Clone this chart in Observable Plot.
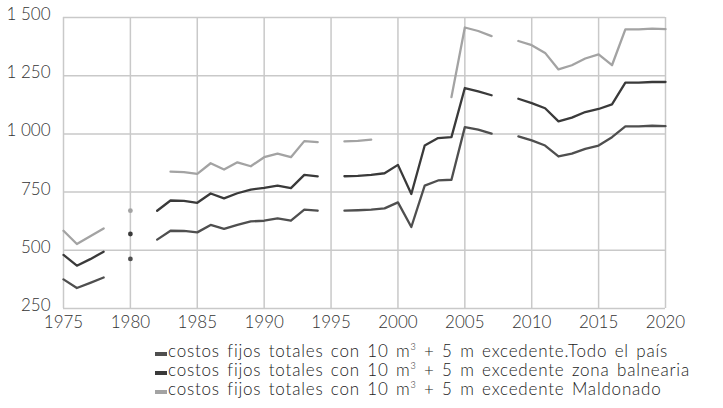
<!DOCTYPE html>
<html><head><meta charset="utf-8">
<script src="https://cdn.jsdelivr.net/npm/d3@7"></script>
<script src="https://cdn.jsdelivr.net/npm/@observablehq/plot@0.6"></script>
<style>
body{margin:0;background:#fff;font-family:Lato,"Open Sans",sans-serif}
#legend{margin-left:155px;margin-top:5px;font-size:17px;letter-spacing:0.8px;word-spacing:2px;line-height:19px;color:#222;white-space:nowrap;font-weight:300}
.sw{display:inline-block;width:12px;height:4px;margin-right:1px;vertical-align:1px}
sup{font-size:9px;vertical-align:7px;line-height:0}
</style></head>
<body><div id="chart"></div><div id="legend"></div>
<script>
const years = [1975,1976,1977,1978,1979,1980,1981,1982,1983,1984,1985,1986,1987,1988,1989,1990,1991,1992,1993,1994,1995,1996,1997,1998,1999,2000,2001,2002,2003,2004,2005,2006,2007,2008,2009,2010,2011,2012,2013,2014,2015,2016,2017,2018,2019,2020];
const todoElPais = [375,338,360,383,null,463,null,546,584,583,577,609,592,609,624,627,637,627,675,670,null,670,672,675,680,706,600,778,800,803,1029,1018,1001,null,989,972,950,903,915,936,950,986,1032,1032,1035,1033];
const zonaBalnearia = [480,434,462,494,null,570,null,670,714,712,704,744,723,745,761,768,778,767,824,818,null,818,820,824,831,867,742,950,982,986,1197,1183,1166,null,1151,1132,1110,1054,1070,1094,1107,1127,1220,1220,1223,1223];
const maldonado = [584,527,560,594,null,670,null,null,838,836,828,874,847,878,861,900,915,900,969,965,null,968,970,975,null,null,null,null,null,1158,1457,1442,1420,null,1399,1381,1348,1277,1295,1324,1342,1295,1449,1449,1452,1450];
const seriesNames = [
  "costos fijos totales con 10 m³ + 5 m excedente. Todo el país",
  "costos fijos totales con 10 m³ + 5 m excedente zona balnearia",
  "costos fijos totales con 10 m³ + 5 m excedente Maldonado"
];
const legendHtml = [
  'costos fijos totales con 10 m<sup>3</sup> + 5 m excedente.Todo el país',
  'costos fijos totales con 10 m<sup>3</sup> + 5 m excedente zona balnearia',
  'costos fijos totales con 10 m<sup>3</sup> + 5 m excedente Maldonado'
];
const seriesColors = ["#4f4f4f", "#3a3a3a", "#a3a3a3"];
const xTicks = [1975,1980,1985,1990,1995,2000,2005,2010,2015,2020];
const yTicks = [250,500,750,1000,1250,1500];

const seriesValues = [todoElPais, zonaBalnearia, maldonado];
const data = [];
const isolated = [];
[2,0,1].forEach(si => {
  const vals = seriesValues[si];
  years.forEach((yr, i) => {
    const v = vals[i];
    data.push({year: yr, value: v, key: seriesNames[si]});
    if (v != null && (i === 0 || vals[i-1] == null) && (i === years.length-1 || vals[i+1] == null)) {
      isolated.push({year: yr, value: v, key: seriesNames[si]});
    }
  });
});

const fmt = d => d >= 1000 ? d3.format(",")(d).replace(",", " ") : String(d);

const chart = Plot.plot({
  width: 723, height: 336,
  marginLeft: 63, marginRight: 58, marginTop: 17, marginBottom: 28,
  style: {fontFamily: "Lato, 'Open Sans', sans-serif", fontSize: "17px", color: "#333", background: "#fff"},
  x: {domain: [1975, 2020], label: null},
  y: {domain: [250, 1500], label: null},
  color: {domain: seriesNames, range: seriesColors},
  marks: [
    Plot.ruleX(xTicks, {stroke: "#c9c9c9", strokeWidth: 1.5}),
    Plot.ruleY(yTicks, {stroke: "#c9c9c9", strokeWidth: 1.5}),
    Plot.line(data, {x: "year", y: "value", z: "key", stroke: "key", strokeWidth: 2.3, curve: "linear"}),
    Plot.dot(isolated, {x: "year", y: "value", fill: "key", r: 2.4, stroke: "none"}),
    Plot.axisX({ticks: xTicks, tickFormat: d => String(d), tickSize: 0, tickPadding: 7, fontSize: 17, fontWeight: 300, label: null}),
    Plot.axisY({ticks: yTicks, tickFormat: fmt, tickSize: 0, tickPadding: 13, fontSize: 17, fontWeight: 300, dy: -3, label: null})
  ]
});
document.getElementById("chart").appendChild(chart);

const leg = document.getElementById("legend");
legendHtml.forEach((t, i) => {
  const row = document.createElement("div");
  row.innerHTML = `<span class="sw" style="background:${seriesColors[i]}"></span>${t}`;
  leg.appendChild(row);
});
</script>
</body></html>
